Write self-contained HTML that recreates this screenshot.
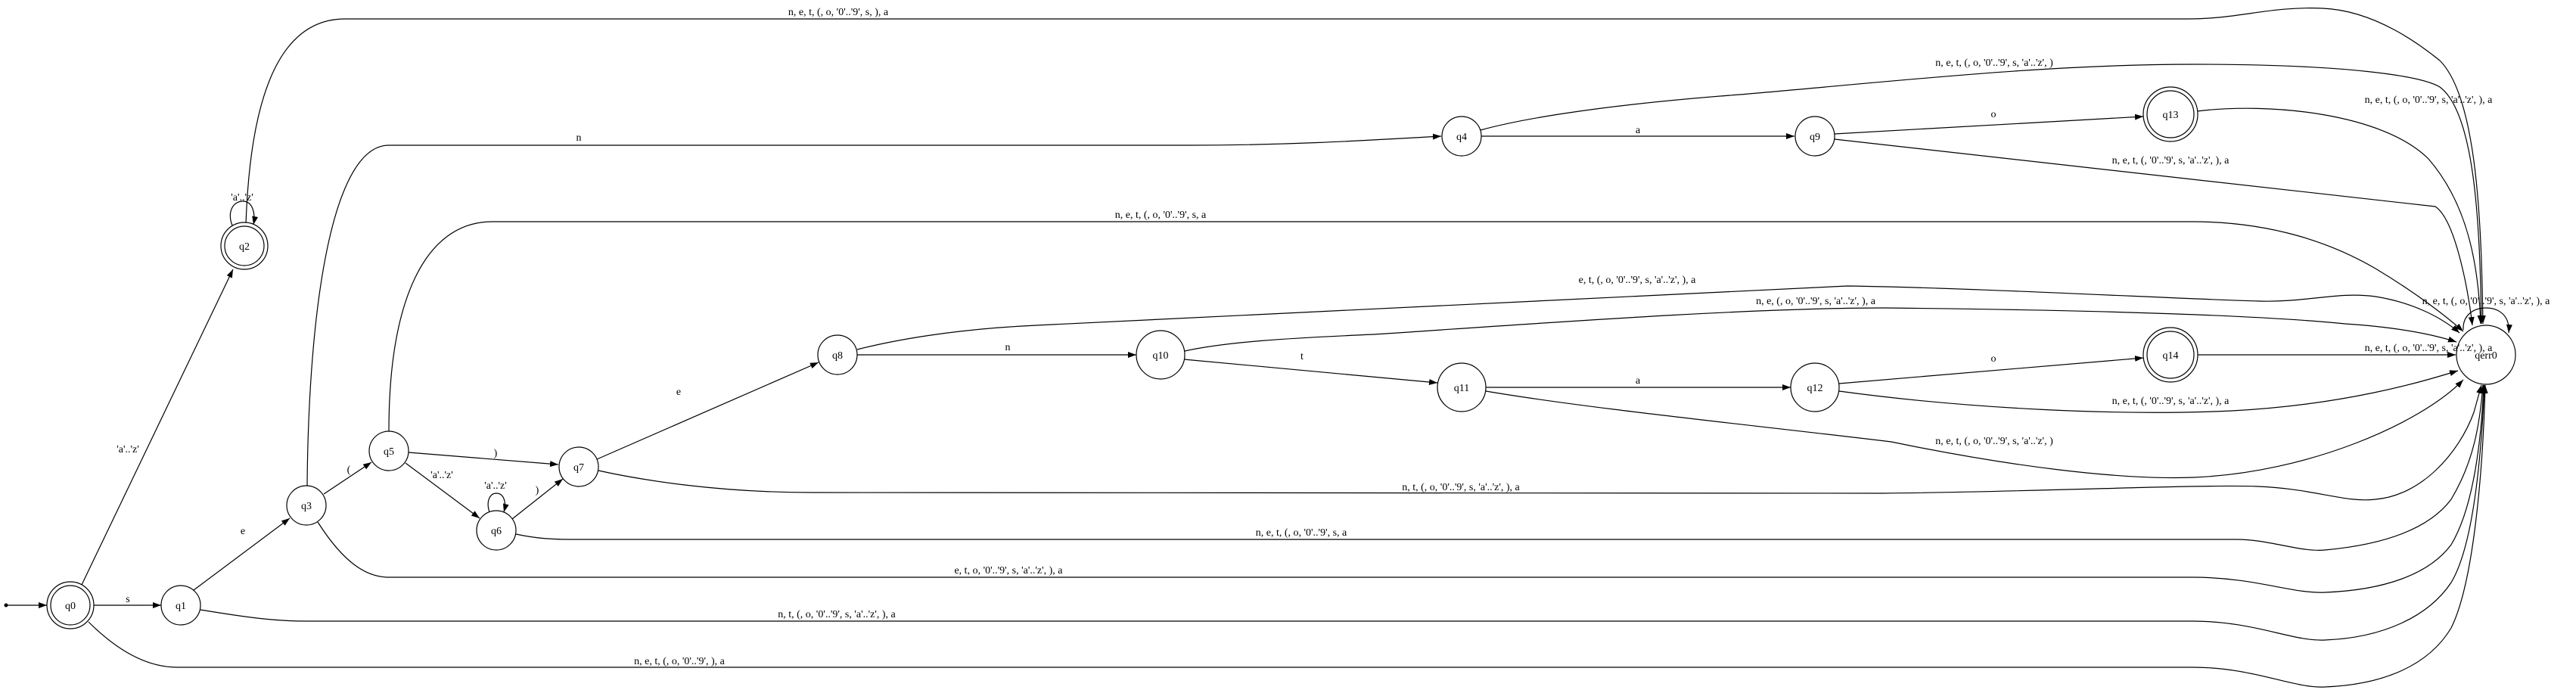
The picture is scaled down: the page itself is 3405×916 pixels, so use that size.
<!DOCTYPE html>
<html><head><meta charset="utf-8"><style>
html,body{margin:0;padding:0;background:#fff;}
svg{display:block;}
text{font-family:"Liberation Serif",serif;font-size:14px;fill:#000;}
</style></head><body>
<svg width="3405" height="916" viewBox="0 0 3405 916" xmlns="http://www.w3.org/2000/svg">
<defs>
<marker id="a" markerUnits="userSpaceOnUse" markerWidth="12" markerHeight="10" refX="11" refY="4" orient="auto">
<path d="M0,0 L11,4 L0,8 Z" fill="#000"/>
</marker>
</defs>
<g fill="none" stroke="#000" stroke-width="1.2" marker-end="url(#a)">
<!-- forward edges -->
<path d="M8,800 L62,800"/>
<path d="M124,800 L213,800"/>
<path d="M256,780 L383,685"/>
<path d="M108,773 L308,356"/>
<path d="M307,298 C300,280 308,266 321,266 C334,266 338,282 335,297"/>
<path d="M428,653 L491,611"/>
<path d="M540,598 L738,614"/>
<path d="M536,612 L634,685"/>
<path d="M647,677 C642,662 648,652 656,652 C665,652 670,662 666,677"/>
<path d="M677,686 L744,633"/>
<path d="M789,607 L1082,479"/>
<path d="M1133,469 L1502,469"/>
<path d="M406,642 C408,400 440,192 514,192 L1572,192 C1700,192 1800,186 1905,180"/>
<path d="M1565,475 L1900,506"/>
<path d="M1958,180 L2372,180"/>
<path d="M2425,177 L2833,154"/>
<path d="M1964,512 L2367,512"/>
<path d="M2431,507 L2833,473"/>
<!-- edges to qerr0 -->
<path d="M325,297 C330,150 360,25 456,25 L2892,25 C2960,25 3000,8 3070,11 C3140,14 3200,60 3225,80 C3275,130 3280,300 3282,428"/>
<path d="M1957,172 C2000,160 2100,140 2300,125 C2500,108 2700,85 2900,85 C3100,85 3200,100 3225,115 C3272,150 3278,300 3280,428"/>
<path d="M2904,147 C3000,135 3150,150 3210,210 C3262,270 3276,350 3279,428"/>
<path d="M2425,184 L3219,273 C3245,290 3262,380 3268,430"/>
<path d="M514,570 C514,400 560,293 651,293 L2898,293 C3000,293 3080,320 3140,355 C3190,385 3230,415 3256,438"/>
<path d="M1133,462 C1180,450 1260,435 1370,430 L2442,378 C2600,380 2900,396 2985,398 C3050,400 3090,385 3140,392 C3190,400 3228,420 3251,440"/>
<path d="M1566,464 C1620,452 1700,447 1816,442 C2000,430 2300,407 2489,407 C2800,410 3000,418 3100,428 C3160,432 3210,440 3247,452"/>
<path d="M2905,469 L3246,469"/>
<path d="M2431,517 C2600,540 2800,550 2950,543 C3100,535 3200,505 3249,490"/>
<path d="M1964,517 C2100,540 2300,560 2500,584 C2650,615 2800,635 2900,631 C3050,625 3200,560 3256,502"/>
<path d="M791,622 C850,635 950,651 1075,651 L2489,652 C2700,650 2900,640 2985,643 C3060,646 3100,665 3140,660 C3200,655 3250,600 3270,545 L3280,509"/>
<path d="M682,706 C710,712 730,713 759,713 L2956,713 C3000,713 3040,730 3073,727 C3150,720 3210,700 3240,660 C3270,610 3278,560 3282,509"/>
<path d="M420,690 C455,745 485,763 514,763 L2898,763 C2980,763 3030,785 3073,783 C3150,780 3210,760 3240,720 C3270,670 3280,580 3283,509"/>
<path d="M265,806 C320,815 360,821 403,821 L2898,821 C2980,821 3030,848 3073,846 C3150,843 3210,815 3240,770 C3270,720 3280,600 3284,509"/>
<path d="M117,822 C150,855 190,882 234,882 L2898,882 C2980,882 3030,910 3073,908 C3150,905 3210,880 3240,830 C3270,770 3282,620 3285,509"/>
<path d="M3256,436 C3255,418 3268,407 3286,407 C3304,407 3318,418 3316,440"/>
</g>
<circle cx="8" cy="800" r="2.5" fill="#000"/>
<!-- nodes -->
<g fill="#fff" stroke="#000" stroke-width="1.2">
<circle cx="93" cy="800" r="31"/><circle cx="93" cy="800" r="26"/>
<circle cx="239" cy="800" r="26"/>
<circle cx="323" cy="325" r="31"/><circle cx="323" cy="325" r="26"/>
<circle cx="405" cy="668" r="26"/>
<circle cx="514" cy="596" r="26"/>
<circle cx="656" cy="701" r="26"/>
<circle cx="765" cy="617" r="26"/>
<circle cx="1107" cy="469" r="26"/>
<circle cx="1534" cy="469" r="32"/>
<circle cx="1932" cy="180" r="26"/>
<circle cx="2399" cy="180" r="26"/>
<circle cx="1932" cy="512" r="32"/>
<circle cx="2399" cy="512" r="32"/>
<circle cx="2869" cy="151" r="36"/><circle cx="2869" cy="151" r="31"/>
<circle cx="2869" cy="469" r="36"/><circle cx="2869" cy="469" r="31"/>
<circle cx="3286" cy="469" r="39"/>
</g>
<g text-anchor="middle">
<text x="93" y="805">q0</text>
<text x="239" y="805">q1</text>
<text x="323" y="330">q2</text>
<text x="405" y="673">q3</text>
<text x="514" y="601">q5</text>
<text x="656" y="706">q6</text>
<text x="765" y="622">q7</text>
<text x="1107" y="474">q8</text>
<text x="1534" y="474">q10</text>
<text x="1932" y="185">q4</text>
<text x="2399" y="185">q9</text>
<text x="1932" y="517">q11</text>
<text x="2399" y="517">q12</text>
<text x="2869" y="156">q13</text>
<text x="2869" y="474">q14</text>
<text x="3286" y="474">qerr0</text>
<!-- edge labels -->
<text x="169" y="796">s</text>
<text x="321" y="706">e</text>
<text x="169" y="598">'a'..'z'</text>
<text x="320" y="265">'a'..'z'</text>
<text x="461" y="625">(</text>
<text x="655" y="603">)</text>
<text x="584" y="632">'a'..'z'</text>
<text x="655" y="646">'a'..'z'</text>
<text x="710" y="652">)</text>
<text x="765" y="186">n</text>
<text x="897" y="522">e</text>
<text x="1332" y="463">n</text>
<text x="1721" y="475">t</text>
<text x="2165" y="176">a</text>
<text x="2635" y="155">o</text>
<text x="2165" y="507">a</text>
<text x="2635" y="478">o</text>
<text x="1108" y="20">n, e, t, (, o, '0'..'9', s, ), a</text>
<text x="1534" y="288">n, e, t, (, o, '0'..'9', s, a</text>
<text x="2636" y="87">n, e, t, (, o, '0'..'9', s, 'a'..'z', )</text>
<text x="3210" y="136">n, e, t, (, o, '0'..'9', s, 'a'..'z', ), a</text>
<text x="2869" y="216">n, e, t, (, '0'..'9', s, 'a'..'z', ), a</text>
<text x="2164" y="374">e, t, (, o, '0'..'9', s, 'a'..'z', ), a</text>
<text x="2400" y="402">n, e, (, o, '0'..'9', s, 'a'..'z', ), a</text>
<text x="3286" y="402">n, e, t, (, o, '0'..'9', s, 'a'..'z', ), a</text>
<text x="3210" y="464">n, e, t, (, o, '0'..'9', s, 'a'..'z', ), a</text>
<text x="2869" y="534">n, e, t, (, '0'..'9', s, 'a'..'z', ), a</text>
<text x="2636" y="587">n, e, t, (, o, '0'..'9', s, 'a'..'z', )</text>
<text x="1931" y="648">n, t, (, o, '0'..'9', s, 'a'..'z', ), a</text>
<text x="1720" y="708">n, e, t, (, o, '0'..'9', s, a</text>
<text x="1333" y="758">e, t, o, '0'..'9', s, 'a'..'z', ), a</text>
<text x="1106" y="816">n, t, (, o, '0'..'9', s, 'a'..'z', ), a</text>
<text x="898" y="878">n, e, t, (, o, '0'..'9', ), a</text>
</g>
</svg>
</body></html>
